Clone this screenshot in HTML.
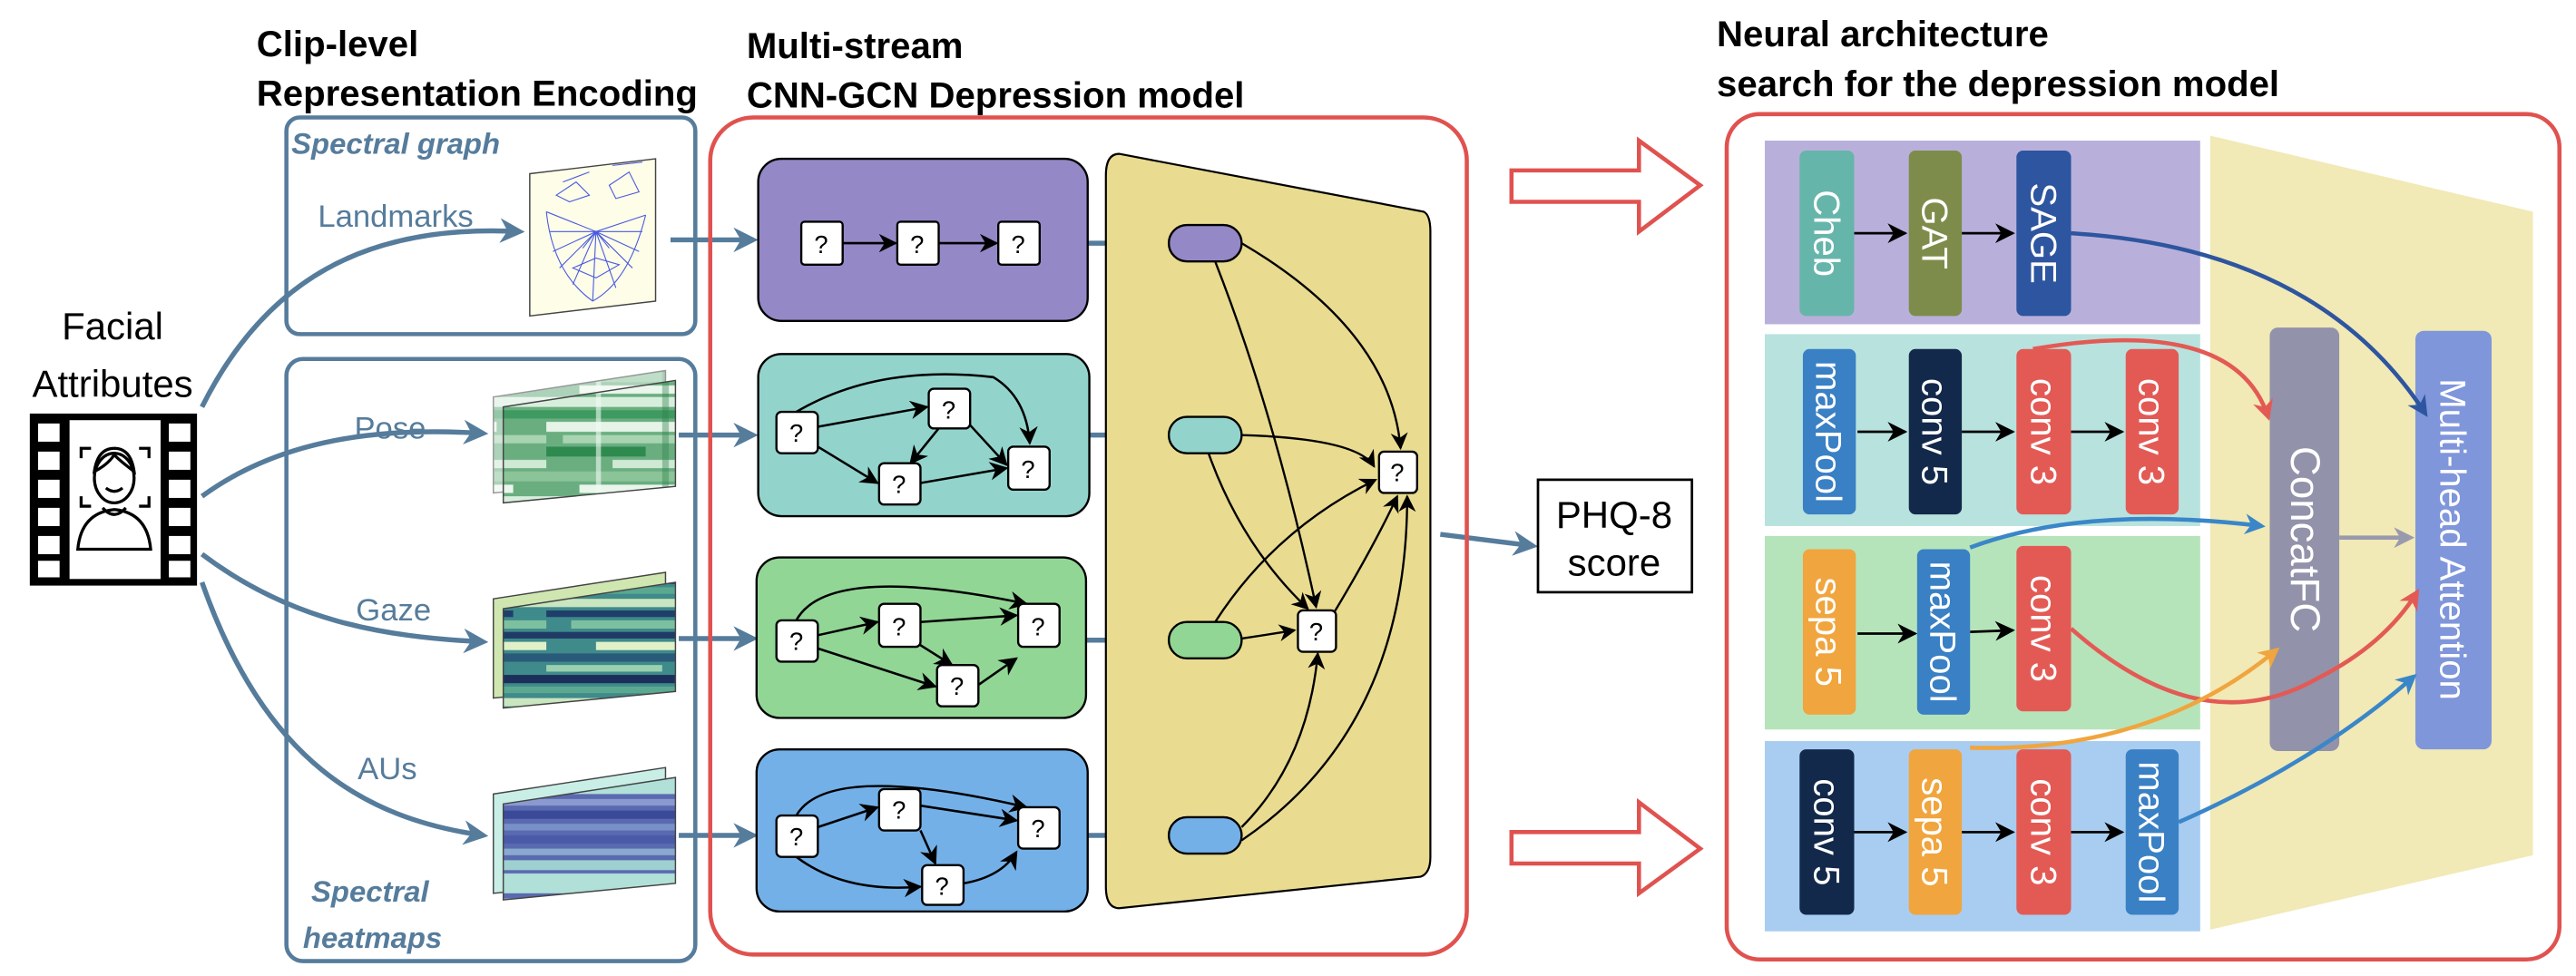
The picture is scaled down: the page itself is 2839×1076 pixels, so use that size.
<!DOCTYPE html>
<html><head><meta charset="utf-8"><style>html,body{margin:0;padding:0;background:#fff}svg{display:block}</style></head><body>
<svg width="2839" height="1076" viewBox="0 0 1556 590" preserveAspectRatio="none" xmlns="http://www.w3.org/2000/svg" font-family="Liberation Sans, sans-serif">
<defs>
<marker id="ab" viewBox="0 0 10 10" refX="8" refY="5" markerWidth="5" markerHeight="5" orient="auto" markerUnits="strokeWidth"><path d="M0,0 L10,5 L0,10 L3,5z" fill="#567c9c"/></marker>
<marker id="ak" viewBox="0 0 10 10" refX="9" refY="5" markerWidth="8" markerHeight="8" orient="auto" markerUnits="strokeWidth"><path d="M0,0 L10,5 L0,10 L3,5z" fill="#000"/></marker>
<marker id="ar" viewBox="0 0 10 10" refX="8" refY="5" markerWidth="5" markerHeight="5" orient="auto" markerUnits="strokeWidth"><path d="M0,0 L10,5 L0,10 L3,5z" fill="#e35a55"/></marker>
<marker id="an" viewBox="0 0 10 10" refX="8" refY="5" markerWidth="5" markerHeight="5" orient="auto" markerUnits="strokeWidth"><path d="M0,0 L10,5 L0,10 L3,5z" fill="#2e559f"/></marker>
<marker id="al" viewBox="0 0 10 10" refX="8" refY="5" markerWidth="5" markerHeight="5" orient="auto" markerUnits="strokeWidth"><path d="M0,0 L10,5 L0,10 L3,5z" fill="#3a86c8"/></marker>
<marker id="ao" viewBox="0 0 10 10" refX="8" refY="5" markerWidth="5" markerHeight="5" orient="auto" markerUnits="strokeWidth"><path d="M0,0 L10,5 L0,10 L3,5z" fill="#f0a53e"/></marker>
<marker id="ag" viewBox="0 0 10 10" refX="8" refY="5" markerWidth="5" markerHeight="5" orient="auto" markerUnits="strokeWidth"><path d="M0,0 L10,5 L0,10 L3,5z" fill="#9a9aae"/></marker>
<pattern id="pg" width="110" height="60" patternUnits="userSpaceOnUse">
<rect width="110" height="60" fill="#6aae80"/>
<rect y="0" width="110" height="6" fill="#d8eedd"/><rect y="8" width="110" height="5" fill="#3e9a60"/><rect y="15" width="80" height="6" fill="#e6f4e8"/><rect x="10" y="23" width="100" height="5" fill="#a8d4b2"/><rect y="30" width="60" height="6" fill="#2f8a50"/><rect x="40" y="38" width="70" height="5" fill="#cfe9d5"/><rect y="45" width="110" height="6" fill="#8cc49a"/><rect x="20" y="53" width="70" height="5" fill="#eaf6ec"/>
<rect x="30" width="3" height="60" fill="#f2faf3" opacity=".6"/><rect x="70" width="4" height="60" fill="#2c8048" opacity=".4"/>
</pattern>
<pattern id="pz" width="110" height="60" patternUnits="userSpaceOnUse">
<rect width="110" height="60" fill="#3f8a8a"/>
<rect y="2" width="110" height="5" fill="#c9e6c0"/><rect y="9" width="90" height="4" fill="#1f3f6a"/><rect x="15" y="15" width="95" height="5" fill="#7cc0a0"/><rect y="22" width="110" height="4" fill="#203a66"/><rect x="30" y="28" width="80" height="5" fill="#e0f0c8"/><rect y="35" width="110" height="5" fill="#2a5a7a"/><rect y="42" width="70" height="4" fill="#9ad0b0"/><rect y="48" width="110" height="5" fill="#1b2f5a"/><rect y="55" width="110" height="4" fill="#5aa890"/>
</pattern>
<pattern id="pa" width="110" height="60" patternUnits="userSpaceOnUse">
<rect width="110" height="60" fill="#5a6ab0"/>
<rect y="3" width="110" height="4" fill="#8a9ad0"/><rect y="10" width="110" height="5" fill="#3a4a98"/><rect y="18" width="110" height="4" fill="#7890c8"/><rect y="25" width="110" height="5" fill="#4a5aa8"/><rect y="33" width="110" height="4" fill="#8aa8d0"/><rect y="40" width="110" height="6" fill="#9ed0d0"/><rect y="48" width="110" height="12" fill="#b0e0d8"/>
</pattern>
</defs>

<!-- titles -->
<g font-weight="bold" font-size="22" fill="#000">
<text x="155" y="34">Clip-level</text>
<text x="155" y="64">Representation Encoding</text>
<text x="451" y="35">Multi-stream</text>
<text x="451" y="65">CNN-GCN Depression model</text>
<text x="1037" y="28">Neural architecture</text>
<text x="1037" y="58">search for the depression model</text>
</g>

<!-- facial attributes -->
<text x="68" y="205" font-size="23" text-anchor="middle">Facial</text>
<text x="68" y="240" font-size="23" text-anchor="middle">Attributes</text>
<g>
<rect x="18" y="250" width="101" height="104" fill="#000"/>
<rect x="42" y="254" width="55" height="96" fill="#fff"/>
<g fill="#fff">
<rect x="23" y="256" width="13" height="11"/><rect x="23" y="273" width="13" height="11"/><rect x="23" y="290" width="13" height="11"/><rect x="23" y="307" width="13" height="11"/><rect x="23" y="324" width="13" height="11"/><rect x="23" y="339" width="13" height="10"/>
<rect x="102" y="256" width="13" height="11"/><rect x="102" y="273" width="13" height="11"/><rect x="102" y="290" width="13" height="11"/><rect x="102" y="307" width="13" height="11"/><rect x="102" y="324" width="13" height="11"/><rect x="102" y="339" width="13" height="10"/>
</g>
<g fill="none" stroke="#000" stroke-width="1.8">
<path d="M49,277 v-6 h6 M84,271 h6 v6 M49,300 v6 h6 M84,306 h6 v-6"/>
<ellipse cx="69" cy="289" rx="12" ry="15"/>
<path d="M57,285 q2,-14 12,-14 q10,0 12,14 q-8,-6 -12,-10 q-4,6 -12,10z"/>
<path d="M64,295 q5,4 10,0"/>
<path d="M47,332 q2,-22 22,-24 q20,2 22,24 z"/>
<path d="M62,307 q7,8 14,0"/>
</g>
</g>

<!-- left boxes -->
<rect x="173" y="71" width="247" height="131" rx="8" fill="none" stroke="#567c9c" stroke-width="2.5"/>
<rect x="173" y="217" width="247" height="364" rx="10" fill="none" stroke="#567c9c" stroke-width="2.5"/>
<g font-style="italic" font-weight="bold" fill="#567c9c" font-size="18">
<text x="176" y="93">Spectral graph</text>
<text x="188" y="545">Spectral</text>
<text x="183" y="573">heatmaps</text>
</g>
<g fill="#567c9c" font-size="19">
<text x="192" y="137">Landmarks</text>
<text x="214" y="265">Pose</text>
<text x="215" y="375">Gaze</text>
<text x="216" y="471">AUs</text>
</g>
<g fill="none" stroke="#567c9c" stroke-width="3" marker-end="url(#ab)">
<path d="M122,246 C160,170 220,135 314,140"/>
<path d="M122,300 C170,265 230,258 292,262"/>
<path d="M122,335 C175,375 230,385 292,388"/>
<path d="M122,352 C160,460 220,495 292,505"/>
<path d="M405,145 L455,145"/>
<path d="M410,263 L455,263"/>
<path d="M410,386 L455,386"/>
<path d="M410,505 L455,505"/>
<path d="M655,147 L700,147"/>
<path d="M657,263 L700,263"/>
<path d="M655,387 L700,387"/>
<path d="M655,505 L700,505"/>
<path d="M870,323 L926,330"/>
</g>

<!-- landmarks image -->
<polygon points="320,105 396,96 396,182 320,191" fill="#fdfde8" stroke="#444" stroke-width="0.8"/>
<g stroke="#4a5ae0" stroke-width="0.6" fill="none">
<path d="M330,128 Q334,165 358,182 Q380,170 390,130"/>
<path d="M330,128 L360,140 L390,130 M332,140 L360,140 L388,140 M334,152 L360,140 L386,152 M338,162 L360,140 L382,162 M346,172 L360,140 L372,174 M358,182 L360,140"/>
<path d="M336,118 L348,110 L356,118 L344,122z M368,112 L380,104 L386,116 L372,120z"/>
<path d="M346,162 L360,156 L374,160 L360,168z M352,150 L360,140 L368,150"/>
<path d="M340,110 L356,104 M370,100 L388,98"/>
</g>

<!-- heatmaps -->
<polygon points="298,240 402,224 402,288 298,298" fill="url(#pg)" stroke="#444" stroke-width="0.8" opacity=".55"/>
<polygon points="304,246 408,230 408,294 304,304" fill="url(#pg)" stroke="#444" stroke-width="0.8"/>
<polygon points="298,362 402,346 402,412 298,422" fill="#cfe6b0" stroke="#444" stroke-width="0.8"/>
<polygon points="304,368 408,352 408,418 304,428" fill="url(#pz)" stroke="#444" stroke-width="0.8"/>
<polygon points="298,480 402,464 402,530 298,540" fill="#c8eee6" stroke="#444" stroke-width="0.8"/>
<polygon points="304,486 408,470 408,534 304,544" fill="url(#pa)" stroke="#444" stroke-width="0.8"/>

<!-- middle red box -->
<rect x="429" y="71" width="457" height="506" rx="26" fill="none" stroke="#e0524f" stroke-width="2.5"/>
<path d="M676,93 L860,128 Q864,130 864,140 L864,518 Q864,528 858,530 L676,549 Q668,549 668,536 L668,106 Q668,93 676,93z" fill="#e9db90" stroke="#000" stroke-width="1.2"/>

<g stroke="#000" stroke-width="1.3">
<rect x="458" y="96" width="199" height="98" rx="14" fill="#9488c6"/>
<rect x="458" y="214" width="200" height="98" rx="14" fill="#92d4cc"/>
<rect x="457" y="337" width="199" height="97" rx="14" fill="#92d696"/>
<rect x="457" y="453" width="200" height="98" rx="14" fill="#74b0e8"/>
<rect x="706" y="136" width="44" height="22" rx="11" fill="#9488c6"/>
<rect x="706" y="252" width="44" height="22" rx="11" fill="#92d4cc"/>
<rect x="706" y="376" width="44" height="22" rx="11" fill="#92d696"/>
<rect x="706" y="494" width="44" height="22" rx="11" fill="#74b0e8"/>
</g>

<!-- stream edges -->
<g fill="none" stroke="#000" stroke-width="1.4" marker-end="url(#ak)">
<path d="M509,147 L541,147"/><path d="M567,147 L602,147"/>
<path d="M494,258 L560,246"/><path d="M481,249 Q530,220 600,228 Q620,240 622,268"/><path d="M494,270 L530,292"/><path d="M567,259 L550,280"/><path d="M586,257 L608,281"/><path d="M556,292 L608,283"/>
<path d="M494,384 L530,376"/><path d="M481,375 Q500,340 620,365"/><path d="M556,376 L614,372"/><path d="M494,392 L565,415"/><path d="M556,390 L575,402"/><path d="M591,414 L614,398"/>
<path d="M494,500 L530,488"/><path d="M481,493 Q500,460 620,488"/><path d="M556,487 L614,496"/><path d="M556,502 L565,522"/><path d="M481,518 Q510,540 556,536"/><path d="M582,534 Q605,530 614,515"/>
</g>
<!-- fusion edges -->
<g fill="none" stroke="#000" stroke-width="1.3" marker-end="url(#ak)">
<path d="M750,147 Q840,200 846,271"/>
<path d="M734,158 Q770,250 795,367"/>
<path d="M750,263 Q820,265 830,282"/>
<path d="M730,274 Q750,330 790,368"/>
<path d="M734,376 Q770,320 831,290"/>
<path d="M750,386 Q770,383 782,381"/>
<path d="M806,370 Q830,330 844,300"/>
<path d="M750,500 Q790,460 796,395"/>
<path d="M750,508 Q850,440 850,300"/>
</g>
<g font-size="15" text-anchor="middle">
<g stroke="#000" stroke-width="1.3" fill="#fff">
<rect x="484" y="134" width="25" height="26" rx="2"/><rect x="542" y="134" width="25" height="26" rx="2"/><rect x="603" y="134" width="25" height="26" rx="2"/>
<rect x="469" y="249" width="25" height="25" rx="3"/><rect x="561" y="235" width="25" height="24" rx="3"/><rect x="531" y="280" width="25" height="25" rx="3"/><rect x="609" y="270" width="25" height="26" rx="3"/>
<rect x="469" y="375" width="25" height="25" rx="3"/><rect x="531" y="365" width="25" height="26" rx="3"/><rect x="615" y="365" width="25" height="26" rx="3"/><rect x="566" y="402" width="25" height="25" rx="3"/>
<rect x="469" y="493" width="25" height="25" rx="3"/><rect x="531" y="477" width="25" height="25" rx="3"/><rect x="615" y="488" width="25" height="25" rx="3"/><rect x="557" y="523" width="25" height="24" rx="3"/>
<rect x="833" y="273" width="23" height="25" rx="3"/><rect x="784" y="369" width="23" height="25" rx="3"/>
</g>
<text x="496" y="153">?</text><text x="554" y="153">?</text><text x="615" y="153">?</text>
<text x="481" y="267">?</text><text x="573" y="253">?</text><text x="543" y="298">?</text><text x="621" y="289">?</text>
<text x="481" y="393">?</text><text x="543" y="384">?</text><text x="627" y="384">?</text><text x="578" y="420">?</text>
<text x="481" y="511">?</text><text x="543" y="495">?</text><text x="627" y="506">?</text><text x="569" y="541">?</text>
<text x="844" y="291">?</text><text x="795" y="387">?</text>
</g>

<!-- PHQ -->
<rect x="929" y="290" width="93" height="68" fill="#fff" stroke="#000" stroke-width="1.5"/>
<text x="975" y="319" font-size="23" text-anchor="middle">PHQ-8</text>
<text x="975" y="348" font-size="23" text-anchor="middle">score</text>

<!-- hollow arrows -->
<g fill="#fff" stroke="#e0524f" stroke-width="2.5">
<path d="M913,103 L990,103 L990,85 L1027,112 L990,140 L990,122 L913,122z"/>
<path d="M913,503 L990,503 L990,485 L1027,513 L990,540 L990,522 L913,522z"/>
</g>

<!-- right box -->
<rect x="1043" y="69" width="503" height="511" rx="20" fill="none" stroke="#e0524f" stroke-width="2.5"/>
<polygon points="1335,82 1530,128 1530,517 1335,562" fill="#f1e9b6"/>
<rect x="1066" y="85" width="263" height="111" fill="#b8b0da"/>
<rect x="1066" y="202" width="263" height="116" fill="#b8e2de"/>
<rect x="1066" y="324" width="263" height="117" fill="#b6e4ba"/>
<rect x="1066" y="448" width="263" height="115" fill="#a8cdf0"/>

<g fill="none" stroke="#000" stroke-width="1.5" marker-end="url(#ak)">
<path d="M1120,141 L1151,141"/><path d="M1185,141 L1216,141"/>
<path d="M1122,261 L1151,261"/><path d="M1185,261 L1216,261"/><path d="M1251,261 L1282,261"/>
<path d="M1122,383 L1157,383"/><path d="M1190,382 L1216,381"/>
<path d="M1120,503 L1151,503"/><path d="M1185,503 L1216,503"/><path d="M1251,503 L1282,503"/>
</g>
<rect x="1371" y="198" width="42" height="256" rx="5" fill="#9292aa"/>
<rect x="1459" y="200" width="46" height="253" rx="5" fill="#7f96da"/>
<g>
<rect x="1087" y="91" width="33" height="100" rx="4" fill="#66b5ab"/>
<rect x="1153" y="91" width="32" height="100" rx="4" fill="#7d8c4a"/>
<rect x="1218" y="91" width="33" height="100" rx="4" fill="#2e559f"/>
<rect x="1089" y="211" width="32" height="100" rx="4" fill="#3a80c4"/>
<rect x="1153" y="211" width="32" height="100" rx="4" fill="#13294b"/>
<rect x="1218" y="211" width="33" height="100" rx="4" fill="#e35a55"/>
<rect x="1284" y="211" width="32" height="100" rx="4" fill="#e35a55"/>
<rect x="1089" y="332" width="32" height="100" rx="4" fill="#f0a53e"/>
<rect x="1158" y="332" width="32" height="100" rx="4" fill="#3a80c4"/>
<rect x="1218" y="330" width="33" height="100" rx="4" fill="#e35a55"/>
<rect x="1087" y="453" width="33" height="100" rx="4" fill="#13294b"/>
<rect x="1153" y="453" width="32" height="100" rx="4" fill="#f0a53e"/>
<rect x="1218" y="453" width="33" height="100" rx="4" fill="#e35a55"/>
<rect x="1284" y="453" width="32" height="100" rx="4" fill="#3a80c4"/>
</g>
<g fill="#fff" font-size="22" text-anchor="middle">
<text transform="translate(1096,141) rotate(90)">Cheb</text>
<text transform="translate(1161,141) rotate(90)">GAT</text>
<text transform="translate(1227,141) rotate(90)">SAGE</text>
<text transform="translate(1097,261) rotate(90)">maxPool</text>
<text transform="translate(1161,261) rotate(90)">conv 5</text>
<text transform="translate(1227,261) rotate(90)">conv 3</text>
<text transform="translate(1292,261) rotate(90)">conv 3</text>
<text transform="translate(1097,382) rotate(90)">sepa 5</text>
<text transform="translate(1166,382) rotate(90)">maxPool</text>
<text transform="translate(1227,380) rotate(90)">conv 3</text>
<text transform="translate(1096,503) rotate(90)">conv 5</text>
<text transform="translate(1161,503) rotate(90)">sepa 5</text>
<text transform="translate(1227,503) rotate(90)">conv 3</text>
<text transform="translate(1292,503) rotate(90)">maxPool</text>
<text transform="translate(1384,326) rotate(90)" font-size="25">ConcatFC</text>
<text transform="translate(1474,326) rotate(90)" font-size="22">Multi-head Attention</text>
</g>
<g fill="none" stroke-width="2.5">
<path d="M1251,141 Q1400,150 1465,250" stroke="#2e559f" marker-end="url(#an)"/>
<path d="M1228,211 Q1350,190 1370,252" stroke="#e35a55" marker-end="url(#ar)"/>
<path d="M1190,331 Q1260,305 1366,318" stroke="#3a86c8" marker-end="url(#al)"/>
<path d="M1251,380 Q1330,450 1400,410 Q1440,390 1460,358" stroke="#e35a55" marker-end="url(#ar)"/>
<path d="M1190,452 Q1300,455 1375,393" stroke="#f0a53e" marker-end="url(#ao)"/>
<path d="M1316,497 Q1400,460 1458,409" stroke="#3a86c8" marker-end="url(#al)"/>
<path d="M1413,325 L1456,325" stroke="#9a9aae" marker-end="url(#ag)"/>
</g>
</svg>
</body></html>
